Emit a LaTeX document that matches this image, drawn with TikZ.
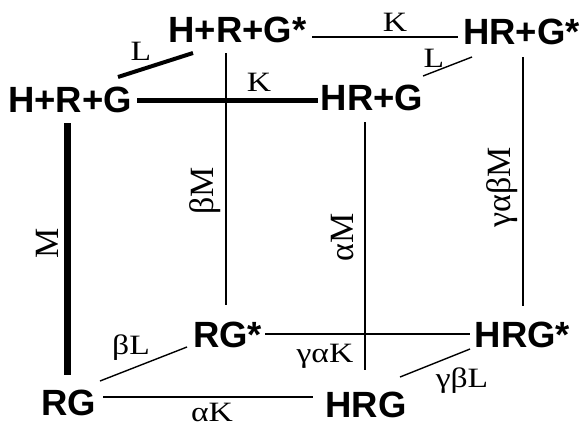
\documentclass[tikz,border=0pt]{standalone}
\usepackage{fontspec}
\usepackage{graphicx}
\setmainfont{Liberation Serif}
\setsansfont{Liberation Sans}
\usetikzlibrary{calc}
\newcommand\hstr[1]{\scalebox{1.2}[1]{#1}}
\tikzset{
  state/.style={font=\sffamily\bfseries\fontsize{36.5}{40}\selectfont, inner sep=0pt, text height=27pt, text depth=0pt},
  lbl/.style={font=\fontsize{28}{32}\selectfont, inner sep=0pt},
  vlbl/.style={font=\fontsize{34}{38}\selectfont, inner sep=0pt, rotate=90},
  edgethin/.style={line width=1.4pt},
  edgethick/.style={line width=5pt},
}
\begin{document}
\begin{tikzpicture}[x=1pt,y=-1pt]
\fill[white] (0,0) rectangle (585,428);
\useasboundingbox (0,0) rectangle (585,428);
% states
\node[state] (hrg)   at (70,98.5)    {H+R+G};
\node[state] (hrgs)  at (237.5,29.5) {H+R+G*};
\node[state] (hrpgs) at (521.5,31.5) {HR+G*};
\node[state] (hrpg)  at (372,96.5)   {HR+G};
\node[state] (rgs)   at (227.5,333.5){RG*};
\node[state] (hrgss) at (522.5,333.5){HRG*};
\node[state] (rg)    at (69,401.5)   {RG};
\node[state] (hrg2)  at (366,403.5)  {HRG};
% thick edges
\draw[line width=4pt] ($(hrg)+(48,-21.5)$) -- ($(hrgs)+(-44.5,23.5)$);
\draw[edgethick] ($(hrg)+(67,1.5)$) -- ($(hrpg)+(-54,3.5)$);
\draw[line width=7pt] ($(hrg)+(-3,24.5)$) -- ($(rg)+(-2,-26.5)$);
% thin edges
\draw[edgethin] ($(hrgs)+(74.5,7.5)$) -- ($(hrpgs)+(-63.5,5.5)$);
\draw[edgethin] ($(hrpg)+(51,-20.5)$) -- ($(hrpgs)+(-49.5,25.5)$);
\draw[edgethin] ($(hrgs)+(-11.5,23.5)$) -- ($(rgs)+(-1.5,-28.5)$);
\draw[edgethin] ($(hrpg)+(-7,25.5)$) -- ($(hrg2)+(-1,-33.5)$);
\draw[edgethin] ($(hrpgs)+(1.5,25.5)$) -- ($(hrgss)+(0.5,-27.5)$);
\draw[edgethin] ($(rgs)+(37.5,0.5)$) -- ($(hrgss)+(-52.5,0.5)$);
\draw[edgethin] ($(rg)+(31,-20.5)$) -- ($(rgs)+(-40.5,13.5)$);
\draw[edgethin] ($(rg)+(34,-4.5)$) -- ($(hrg2)+(-53,-6.5)$);
\draw[edgethin] ($(hrg2)+(34,-26.5)$) -- ($(hrgss)+(-52.5,15.5)$);
% labels
\node[lbl] (l1) at (141,51) {\hstr{L}};
\node[lbl] (k1) at (259,82) {\hstr{K}};
\node[lbl] (k2) at (395,22) {\hstr{K}};
\node[lbl] (l2) at (434,58) {\hstr{L}};
\node[vlbl] (bm) at (205,191) {βM};
\node[vlbl] (am) at (343,237) {αM};
\node[vlbl] (gabm) at (502,187) {γαβM};
\node[vlbl] (m) at (47,243) {M};
\node[lbl] (bl) at (131,348) {\hstr{βL}};
\node[lbl] (gak) at (325,356) {\hstr{γαK}};
\node[lbl] (ak) at (212,412.5) {\hstr{αK}};
\node[lbl] (gbl) at (462,381) {\hstr{γβL}};
\end{tikzpicture}
\end{document}
